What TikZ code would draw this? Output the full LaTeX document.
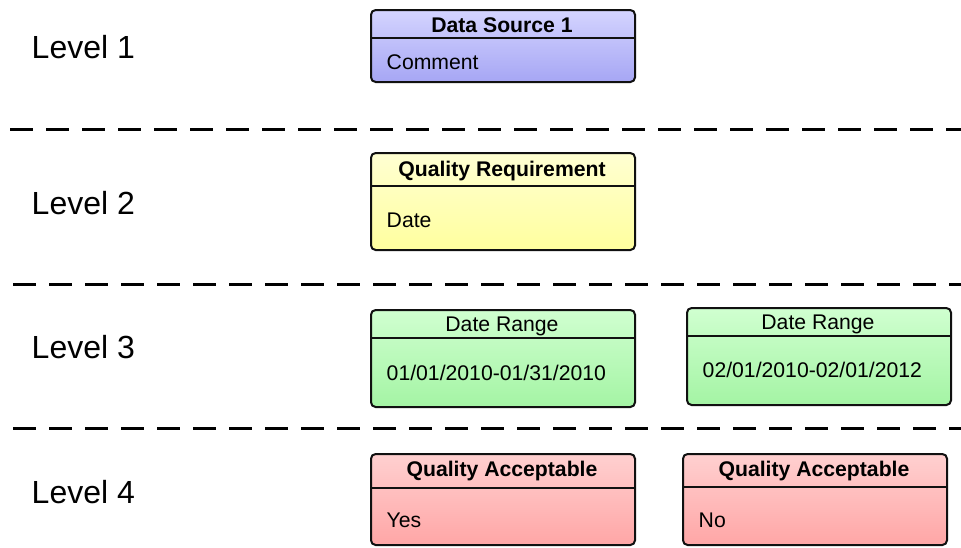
\documentclass[tikz,border=0pt]{standalone}
\usepackage{fontspec}
\setmainfont{Liberation Sans}
\definecolor{bluea}{HTML}{D4D4FF}
\definecolor{blueb}{HTML}{A6A6F4}
\definecolor{yela}{HTML}{FFFFD2}
\definecolor{yelb}{HTML}{FFFF9E}
\definecolor{grna}{HTML}{D0FFD0}
\definecolor{grnb}{HTML}{A4F4A4}
\definecolor{reda}{HTML}{FFD0D0}
\definecolor{redb}{HTML}{FFA6A6}
\definecolor{edge}{HTML}{111111}
\tikzset{
  box/.style={draw=edge, line width=1.5pt, rounded corners=3.5pt, anchor=north west,
    minimum width=198pt, inner sep=0pt, shading angle=45},
  bluebox/.style={box, top color=bluea, bottom color=blueb},
  yelbox/.style={box, top color=yela, bottom color=yelb},
  grnbox/.style={box, top color=grna, bottom color=grnb},
  redbox/.style={box, top color=reda, bottom color=redb},
  divider/.style={draw=edge, line width=1.5pt},
  sep/.style={draw=black, line width=2.25pt, dash pattern=on 17.25pt off 9.75pt},
  lvl/.style={font=\fontsize{24}{28}\selectfont, anchor=west},
  ttl/.style={font=\fontsize{15.9}{19}\selectfont\bfseries, anchor=center},
  ttn/.style={font=\fontsize{15.9}{19}\selectfont, anchor=center},
  bdy/.style={font=\fontsize{15.9}{19}\selectfont, anchor=west},
}
\begin{document}
\begin{tikzpicture}[x=0.75pt, y=-0.75pt]
\useasboundingbox (0,0) rectangle (961,547);
% level labels
\node[lvl] (l1) at (27,47) {Level 1};
\node[lvl] (l2) at (27,203) {Level 2};
\node[lvl] (l3) at (27,347) {Level 3};
\node[lvl] (l4) at (27,492) {Level 4};
% separators
\coordinate (s1l) at (10,129); \coordinate (s1r) at (961,129);
\coordinate (s2l) at (13,284); \coordinate (s2r) at (961,284);
\coordinate (s3l) at (13,428); \coordinate (s3r) at (961,428);
\draw[sep] (s1l) -- (s1r);
\draw[sep] (s2l) -- (s2r);
\draw[sep] (s3l) -- (s3r);
% box 1
\node[bluebox, minimum height=54pt] (b1) at (370,9) {};
\coordinate (b1l) at (370,38); \coordinate (b1r) at (634,38);
\draw[divider] (b1l) -- (b1r);
\node[ttl] (b1t) at (502,25) {Data Source 1};
\node[bdy] (b1b) at (382,62) {Comment};
% box 2
\node[yelbox, minimum height=72.75pt] (b2) at (370,152) {};
\coordinate (b2l) at (370,186); \coordinate (b2r) at (634,186);
\draw[divider] (b2l) -- (b2r);
\node[ttl] (b2t) at (502,171) {Quality Requirement};
\node[bdy] (b2b) at (382,220) {Date};
% box 3a
\node[grnbox, minimum height=72.75pt] (b3) at (370,309) {};
\coordinate (b3l) at (370,338); \coordinate (b3r) at (634,338);
\draw[divider] (b3l) -- (b3r);
\node[ttn] (b3t) at (502,326) {Date Range};
\node[bdy] (b3b) at (382,373) {01/01/2010-01/31/2010};
% box 3b
\node[grnbox, minimum height=72.75pt] (b4) at (686,307) {};
\coordinate (b4l) at (686,336); \coordinate (b4r) at (950,336);
\draw[divider] (b4l) -- (b4r);
\node[ttn] (b4t) at (818,324) {Date Range};
\node[bdy] (b4b) at (698,370) {02/01/2010-02/01/2012};
% box 4a
\node[redbox, minimum height=68.25pt] (b5) at (370,453) {};
\coordinate (b5l) at (370,488); \coordinate (b5r) at (634,488);
\draw[divider] (b5l) -- (b5r);
\node[ttl] (b5t) at (502,471) {Quality Acceptable};
\node[bdy] (b5b) at (382,520) {Yes};
% box 4b
\node[redbox, minimum height=68.25pt] (b6) at (682,453) {};
\coordinate (b6l) at (682,487); \coordinate (b6r) at (946,487);
\draw[divider] (b6l) -- (b6r);
\node[ttl] (b6t) at (814,471) {Quality Acceptable};
\node[bdy] (b6b) at (694,520) {No};
\end{tikzpicture}
\end{document}
